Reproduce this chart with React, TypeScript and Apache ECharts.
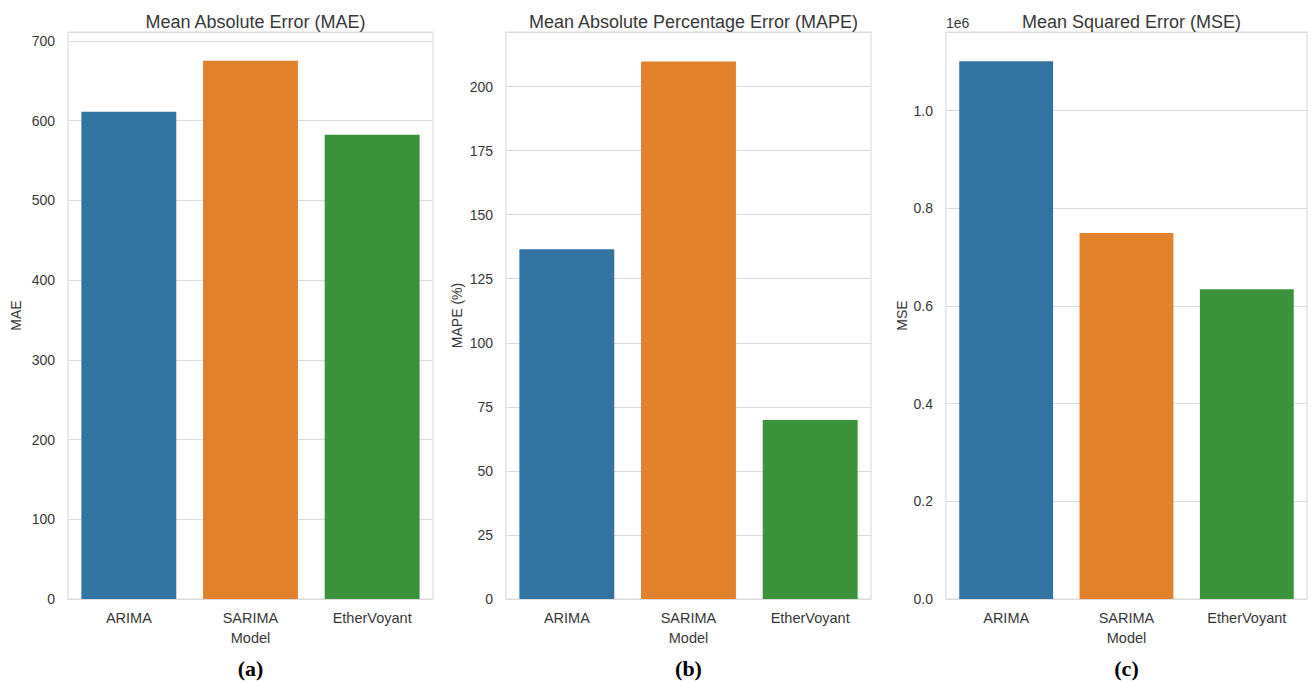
import React, { useEffect, useRef } from "react";
import * as echarts from "echarts";

const models = ["ARIMA", "SARIMA", "EtherVoyant"];
const barColors = ["#3274a1", "#e1812c", "#3a923a"];
const maeValues = [611, 675, 582];
const mapeValues = [136.5, 209.8, 69.9];
const mseValues = [1101000, 749000, 634000];
const panelTitles = [
  "Mean Absolute Error (MAE)",
  "Mean Absolute Percentage Error (MAPE)",
  "Mean Squared Error (MSE)",
];
const yNames = ["MAE", "MAPE (%)", "MSE"];
const panelLabels = ["(a)", "(b)", "(c)"];
const yMax = [711, 221.3, 1160700];
const yInterval = [100, 25, 200000];

const FONT = "Liberation Sans, Arial, sans-serif";
const TEXT = "#383838";
const GRIDC = "#dcdcdc";

const grids = [
  { left: 68, width: 365 },
  { left: 506, width: 365 },
  { left: 946, width: 361 },
];
const nameGaps = [45, 42, 37];

export default function App() {
  const ref = useRef<HTMLDivElement>(null);
  useEffect(() => {
    if (!ref.current) return;
    const chart = echarts.init(ref.current, null, { renderer: "svg" });
    const seriesData = [maeValues, mapeValues, mseValues];
    const option: any = {
      animation: false,
      backgroundColor: "#ffffff",
      title: grids.map((g, i) => ({
        text: panelTitles[i],
        left: g.left + g.width / 2,
        top: 8,
        textAlign: "center",
        textStyle: { fontFamily: FONT, fontSize: 18, fontWeight: "normal", color: TEXT },
      })),
      grid: grids.map((g) => ({
        left: g.left,
        width: g.width,
        top: 32,
        height: 567,
        show: true,
        borderColor: GRIDC,
        borderWidth: 1.2,
        backgroundColor: "#ffffff",
        containLabel: false,
      })),
      xAxis: grids.map((g, i) => ({
        type: "category",
        gridIndex: i,
        data: models,
        name: "Model",
        nameLocation: "middle",
        nameGap: 31,
        nameTextStyle: { fontFamily: FONT, fontSize: 14.5, color: TEXT },
        axisLine: { show: false },
        axisTick: { show: false },
        axisLabel: { fontFamily: FONT, fontSize: 14.5, color: TEXT, margin: 11 },
        splitLine: { show: false },
      })),
      yAxis: grids.map((g, i) => ({
        type: "value",
        gridIndex: i,
        min: 0,
        max: yMax[i],
        interval: yInterval[i],
        name: yNames[i],
        nameLocation: "middle",
        nameGap: nameGaps[i],
        nameTextStyle: { fontFamily: FONT, fontSize: 14, color: TEXT },
        axisLine: { show: false },
        axisTick: { show: false },
        axisLabel: {
          fontFamily: FONT,
          fontSize: 14,
          color: TEXT,
          margin: 13,
          showMaxLabel: false,
          formatter: i === 2 ? (v: number) => (v / 1e6).toFixed(1) : (v: number) => String(v),
        },
        splitLine: { show: true, lineStyle: { color: GRIDC, width: 1.2 } },
      })),
      series: seriesData.map((vals, i) => ({
        type: "bar",
        xAxisIndex: i,
        yAxisIndex: i,
        barWidth: "78%",
        data: vals.map((v, k) => ({ value: v, itemStyle: { color: barColors[k] } })),
      })),
      graphic: [
        {
          type: "text",
          left: 946,
          top: 16,
          style: { text: "1e6", font: `14px ${FONT}`, fill: TEXT },
        },
        ...grids.map((g, i) => ({
          type: "text",
          x: g.left + g.width / 2,
          y: 668,
          style: {
            text: panelLabels[i],
            font: "bold 22px 'Liberation Serif', 'Times New Roman', serif",
            fill: "#000000",
            textAlign: "center",
            textVerticalAlign: "middle",
          },
        })),
      ],
    };
    chart.setOption(option);
    return () => chart.dispose();
  }, []);
  return (
    <div
      ref={ref}
      style={{ position: "fixed", left: 0, top: 0, width: 1313, height: 684, background: "#fff" }}
    />
  );
}
